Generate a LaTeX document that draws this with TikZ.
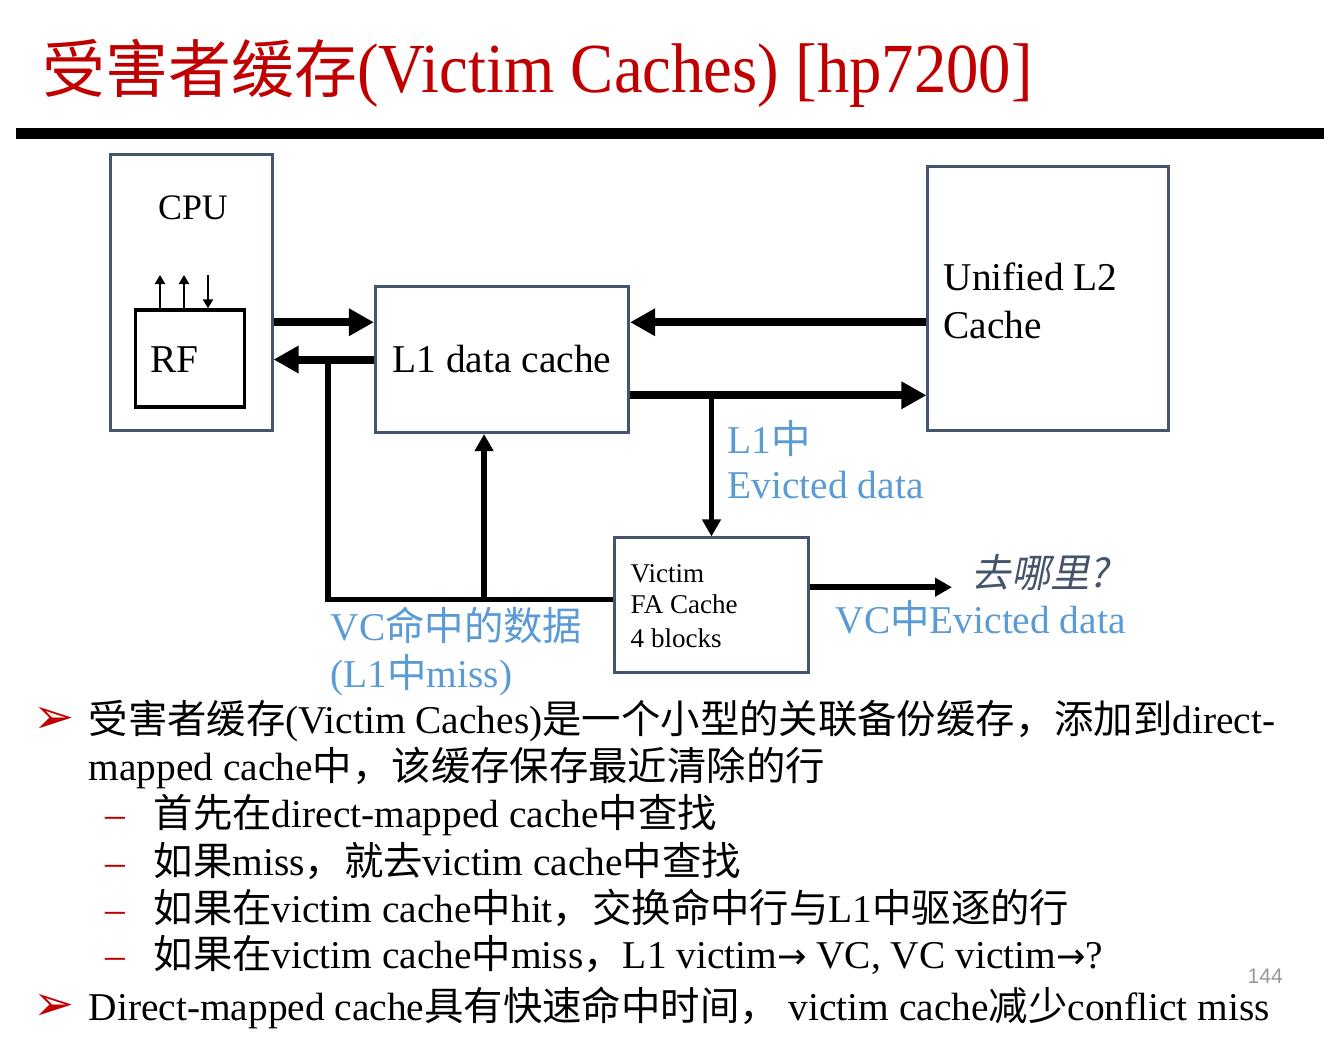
\documentclass[tikz,border=0pt]{standalone}
\usepackage{fontspec}
\setmainfont{Liberation Serif}
\setsansfont{Liberation Sans}
\newfontfamily\cjkfont{Noto Sans CJK SC}
\newfontfamily\cjkslant{Noto Sans CJK SC}[FakeSlant=0.2]
\newfontfamily\titlefont{Liberation Serif}[FakeStretch=0.92]
\newfontfamily\dingfont{DejaVu Sans}
\usepackage{tikz}
\usetikzlibrary{arrows.meta,positioning,calc}
\definecolor{titlered}{HTML}{C00000}
\definecolor{boxgray}{HTML}{44546A}
\definecolor{noteblue}{HTML}{5B9BD5}
\newcommand{\zh}[1]{{\cjkfont #1}}
\newcommand{\toarrow}{{\dingfont\fontsize{10pt}{12pt}\selectfont →}}

\begin{document}
\begin{tikzpicture}[x=0.01cm, y=-0.01cm,
 font=\fontsize{11.2pt}{13.6pt}\selectfont,
 blk/.style={draw=boxgray, line width=0.03cm, inner sep=0},
 regfile/.style={draw=black, line width=0.033cm, inner sep=0},
 bus/.style={line width=0.08cm, >={Triangle[length=0.25cm,width=0.26cm]}},
 wire/.style={line width=0.055cm, >={Triangle[length=0.17cm,width=0.18cm]}},
 rfarrow/.style={line width=0.025cm, >={Triangle[length=0.09cm,width=0.1cm]}},
 txt/.style={anchor=base west, inner sep=0},
 note/.style={txt, text=noteblue},
 bullet/.style={txt, text=titlered, font=\dingfont\fontsize{14pt}{16pt}\selectfont},
 reddash/.style={txt, text=titlered}]
 \fill[white] (0,0) rectangle (1330,1056);
 \useasboundingbox (0,0) rectangle (1330,1056);
 % title
 \node[txt, text=titlered, font=\titlefont\fontsize{20pt}{24pt}\selectfont] (title) at (42,92)
  {{\cjkfont\fontsize{17.9pt}{20pt}\selectfont 受害者缓存}(Victim Caches) [hp7200]};
 \draw[line width=0.11cm] (16,133.5) -- (1324,133.5);
 % boxes
 \node[blk, minimum width=1.61cm, minimum height=2.76cm] (cpu) at (191.5,292.5) {};
 \node[anchor=base, inner sep=0, font=\fontsize{10.2pt}{12pt}\selectfont] (cpulbl) at (193,219) {CPU};
 \node[regfile, minimum width=1.09cm, minimum height=0.97cm] (rf) at (190,358.5) {};
 \node[txt] (rflbl) at (150,372) {RF};
 \node[blk, minimum width=2.53cm, minimum height=1.46cm] (l1) at (502,359.5) {L1 data cache};
 \node[blk, minimum width=2.40cm, minimum height=2.63cm] (l2) at (1048,298.5) {};
 \node[txt] (l2a) at (943,290) {Unified L2};
 \node[txt] (l2b) at (943,338) {Cache};
 \node[blk, minimum width=1.93cm, minimum height=1.34cm] (vc) at (711.5,605) {};
 \node[txt, font=\fontsize{7.7pt}{9pt}\selectfont] (vca1) at (630,582) {Victim};
 \node[txt, font=\fontsize{7.7pt}{9pt}\selectfont] (vca2) at (630,613) {FA Cache};
 \node[txt, font=\fontsize{7.7pt}{9pt}\selectfont] (vca3) at (630,647) {4 blocks};
 % RF ports
 \coordinate (rfp1) at (160,275);
 \coordinate (rfp2) at (184,275);
 \coordinate (rfp3) at (208,275);
 \draw[rfarrow,->] (rf.north -| rfp1) -- (rfp1);
 \draw[rfarrow,->] (rf.north -| rfp2) -- (rfp2);
 \draw[rfarrow,->] (rfp3) -- (rf.north -| rfp3);
 % buses
 \coordinate (l1in) at ($(l1.north west)!0.25!(l1.south west)$);
 \coordinate (l1out) at ($(l1.north east)!0.74!(l1.south east)$);
 \coordinate (l1hit) at ($(l1.south west)!0.43!(l1.south east)$);
 \draw[bus,->] (cpu.east |- l1in) -- (l1in);
 \draw[bus,->] (l1.west) -- (cpu.east |- l1.west);
 \draw[bus,->] (l2.west |- l1in) -- (l1.east |- l1in);
 \draw[bus,->] (l1out) -- (l2.west |- l1out);
 \draw[wire,->] (vc.north |- l1out) -- (vc.north);
 % victim cache paths
 \coordinate (vcout) at ($(vc.north east)!0.37!(vc.south east)$);
 \coordinate (vcgo) at (952,587);
 \coordinate (vcret) at ($(vc.north west)!0.46!(vc.south west)$);
 \coordinate (hit) at (328,359.5);
 \draw[wire,->] (vcout) -- (vcout -| vcgo);
 \draw[wire] (vcret) -| (hit);
 \draw[wire,->] (vcret -| l1hit) -- (l1hit);
 % labels
 \node[note] (ev1) at (727,453) {L1\zh{中}};
 \node[note] (ev2) at (727,498) {Evicted data};
 \node[note] (hit1) at (330,640) {VC\zh{命中的数据}};
 \node[note] (hit2) at (330,687) {(L1\zh{中}miss)};
 \node[note] (vcev) at (835,633) {VC\zh{中}Evicted data};
 \node[txt, text=boxgray] (where) at (971,587) {\cjkslant 去哪里\textit{?}};
 % text
 \node[bullet] (b1) at (33,733) {➢};
 \node[txt] (t1) at (88,733) {\zh{受害者缓存}(Victim Caches)\zh{是一个小型的关联备份缓存，添加到}direct-};
 \node[txt] (t2) at (88,780) {mapped cache\zh{中，该缓存保存最近清除的行}};
 \node[reddash] (d3) at (105,827) {–};
 \node[txt] (t3) at (153,827) {\zh{首先在}direct-mapped cache\zh{中查找}};
 \node[reddash] (d4) at (105,875) {–};
 \node[txt] (t4) at (153,875) {\zh{如果}miss\zh{，就去}victim cache\zh{中查找}};
 \node[reddash] (d5) at (105,922) {–};
 \node[txt] (t5) at (153,922) {\zh{如果在}victim cache\zh{中}hit\zh{，交换命中行与}L1\zh{中驱逐的行}};
 \node[reddash] (d6) at (105,968) {–};
 \node[txt] (t6) at (153,968) {\zh{如果在}victim cache\zh{中}miss\zh{，}L1 victim\toarrow{} VC, VC victim\toarrow?};
 \node[bullet] (b2) at (33,1020) {➢};
 \node[txt] (t7) at (88,1020) {Direct-mapped cache\zh{具有快速命中时间，} victim cache\zh{减少}conflict miss};
 \node[txt, text=black!40, font=\sffamily\fontsize{6pt}{7pt}\selectfont] (pg) at (1247,983) {144};
\end{tikzpicture}
\end{document}
